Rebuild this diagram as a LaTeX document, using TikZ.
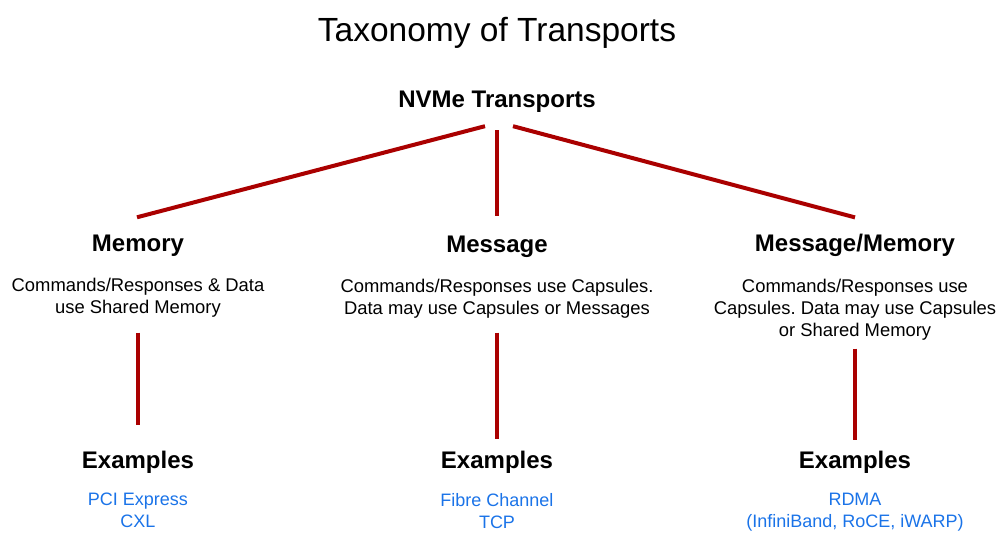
\documentclass[tikz,border=0pt]{standalone}
\usepackage{fontspec}
\setmainfont{Liberation Sans}
\usepackage{tikz}
\usetikzlibrary{positioning}
\definecolor{branchred}{RGB}{170,0,0}
\definecolor{exblue}{RGB}{26,115,232}
\frenchspacing

\begin{document}
\begin{tikzpicture}[x=1pt,y=-1pt,inner sep=0pt,
    head/.style={anchor=base,font=\fontsize{24}{28}\selectfont\bfseries},
    note/.style={anchor=north,align=center,font=\fontsize{18.4}{22}\selectfont},
    link/.style={anchor=north,align=center,text=exblue,font=\fontsize{18}{22}\selectfont},
    branch/.style={draw=branchred,line width=4pt}]
    \useasboundingbox (0,0) rectangle (997,534);
    \node[anchor=base,font=\fontsize{33.5}{38}\selectfont] (title) at (497,42) {Taxonomy of Transports};
    \node[head] (nvme) at (497,108) {NVMe Transports};
    % three kinds
    \node[head] (mem) at (138,252) {Memory};
    \node[head] (msg) at (497,253) {Message};
    \node[head] (mm) at (855,252) {Message/Memory};
    \node[note] (memtxt) at (138,277.5) {Commands/Responses \& Data\\use Shared Memory};
    \node[note] (msgtxt) at (497,278.5) {Commands/Responses use Capsules.\\Data may use Capsules or Messages};
    \node[note] (mmtxt) at (855,278.5) {Commands/Responses use\\Capsules. Data may use Capsules\\or Shared Memory};
    % examples
    \node[head] (memex) at (138,469) {Examples};
    \node[head] (msgex) at (497,469) {Examples};
    \node[head] (mmex) at (855,469) {Examples};
    \node[link] (memlist) at (138,493) {PCI Express\\CXL};
    \node[link] (msglist) at (497,493) {Fibre Channel\\TCP};
    \node[link] (mmlist) at (855,493) {RDMA\\(InfiniBand, RoCE, iWARP)};

    \draw[branch] ([xshift=-12pt,yshift=-13pt]nvme.south) -- ([xshift=-1pt,yshift=18pt]mem.north);
    \draw[branch] ([yshift=-17pt]nvme.south) -- ([yshift=20pt]msg.north);
    \draw[branch] ([xshift=16pt,yshift=-13pt]nvme.south) -- ([yshift=17pt]mm.north);
    \draw[branch] ([yshift=-15.5pt]memtxt.south) -- ([yshift=26pt]memex.north);
    \draw[branch] ([yshift=-14.5pt]msgtxt.south) -- ([yshift=12pt]msgex.north);
    \draw[branch] ([yshift=-8.5pt]mmtxt.south) -- ([yshift=11pt]mmex.north);
\end{tikzpicture}
\end{document}
